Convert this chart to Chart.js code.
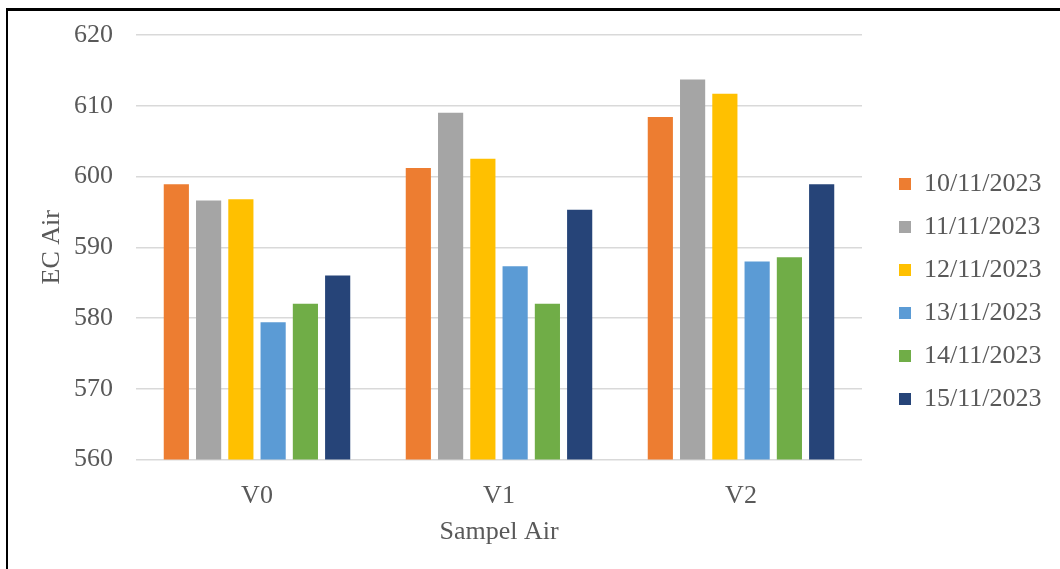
<!DOCTYPE html>
<html>
<head>
<meta charset="utf-8">
<script src="https://cdn.jsdelivr.net/npm/chart.js@4/dist/chart.umd.min.js"></script>
<style>
  html, body { margin: 0; padding: 0; background: #fff; }
  #wrap { position: relative; width: 1060px; height: 569px; overflow: hidden; background: #fff; }
  #frame { position: absolute; left: 6px; top: 8px; width: 1100px; height: 600px;
           border-top: 3px solid #000; border-left: 2px solid #000; box-sizing: border-box; pointer-events: none; }
  canvas { position: absolute; left: 0; top: 0; }
</style>
</head>
<body>
<div id="wrap">
  <canvas id="c" width="1060" height="569"></canvas>
  <div id="frame"></div>
</div>
<script>
const categories = ["V0", "V1", "V2"];
const seriesLabels = ["10/11/2023", "11/11/2023", "12/11/2023", "13/11/2023", "14/11/2023", "15/11/2023"];
const s10 = [598.9, 601.2, 608.4];
const s11 = [596.6, 609.0, 613.7];
const s12 = [596.8, 602.5, 611.7];
const s13 = [579.4, 587.3, 588.0];
const s14 = [582.0, 582.0, 588.6];
const s15 = [586.0, 595.3, 598.9];
const seriesColors = ["#ED7D31", "#A5A5A5", "#FFC000", "#5B9BD5", "#70AD47", "#264478"];
const yMin = 560, yMax = 620, yStep = 10;
const xTitle = "Sampel Air";
const yTitle = "EC Air";

const allSeries = [s10, s11, s12, s13, s14, s15];
const FONT = "'Liberation Serif', 'Times New Roman', serif";
const TXT = "#595959";
const FS = 26;

const legendGap = {
  id: 'legendGap',
  beforeLayout(chart) {
    const lg = chart.legend;
    if (lg && !lg._gapPatched) {
      const orig = lg.fit.bind(lg);
      lg.fit = function () { orig(); this.width = 198; };
      lg._gapPatched = true;
    }
  },
  afterLayout(chart) {
    const lg = chart.legend;
    if (lg) { lg.left += 20; }
  }
};

new Chart(document.getElementById('c'), {
  type: 'bar',
  data: {
    labels: categories,
    datasets: allSeries.map((d, i) => ({
      label: seriesLabels[i],
      data: d,
      backgroundColor: seriesColors[i],
      borderWidth: 0,
      categoryPercentage: 0.8,
      barPercentage: 0.78
    }))
  },
  options: {
    responsive: false,
    animation: false,
    devicePixelRatio: 1,
    layout: { padding: { left: 37, top: 35, bottom: 21, right: 0 } },
    plugins: {
      legend: {
        position: 'right',
        labels: {
          boxWidth: 12, boxHeight: 12, padding: 17,
          color: TXT,
          font: { family: FONT, size: FS }
        }
      },
      tooltip: { enabled: false }
    },
    scales: {
      x: {
        afterFit(scale) { scale.height = 88.5; },
        grid: { display: false, drawTicks: false },
        border: { display: false },
        ticks: { color: TXT, font: { family: FONT, size: FS }, padding: 21 },
        title: { display: true, text: xTitle, color: TXT, font: { family: FONT, size: FS }, padding: { top: 0, bottom: 0 } }
      },
      y: {
        afterFit(scale) { scale.width = 99; scale.paddingTop = 0; scale.paddingBottom = 0; },
        min: yMin, max: yMax,
        grid: { color: '#D9D9D9', lineWidth: 1.5, drawTicks: false },
        border: { display: false },
        ticks: { stepSize: yStep, color: TXT, font: { family: FONT, size: FS }, padding: 23 },
        title: { display: true, text: yTitle, color: TXT, font: { family: FONT, size: FS }, padding: { top: 0, bottom: 0 } }
      }
    }
  },
  plugins: [legendGap]
});
</script>
</body>
</html>
